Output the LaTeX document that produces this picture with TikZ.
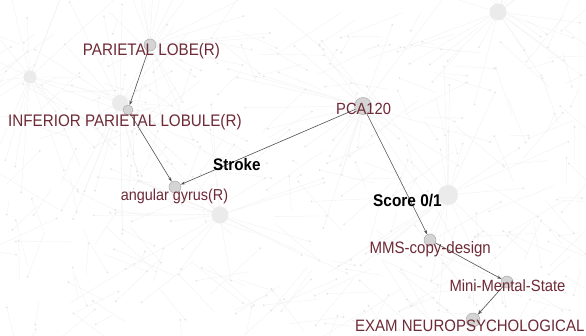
\documentclass[tikz,border=0pt]{standalone}
\usepackage{fontspec}
\setmainfont{Liberation Sans}
\usetikzlibrary{arrows.meta}
\definecolor{lblred}{RGB}{110,42,54}
\definecolor{edgecol}{RGB}{80,80,80}
\newcommand{\vst}[1]{\scalebox{1}[1.1]{#1}}
\begin{document}
\begin{tikzpicture}[x=1pt,y=-1pt,
  bgline/.style={draw=black!6, line width=0.3pt},
  bgdot/.style={fill=black!10},
  hub/.style={circle, fill=black!8, draw=none, inner sep=0pt, minimum size=#1},
  hub/.default=14pt,
  vert/.style={circle, fill=black!17, draw=black!33, line width=0.5pt, inner sep=0pt, minimum size=#1},
  vert/.default=12pt,
  edge/.style={draw=edgecol, line width=0.6pt, -{Stealth[length=4.5pt,width=3pt]}},
  lbl/.style={text=lblred, inner sep=0pt, anchor=base west, font=\fontsize{15.2}{16}\selectfont},
  boldlbl/.style={text=black, inner sep=0pt, anchor=base west, font=\bfseries\fontsize{15.2}{16}\selectfont}]

\useasboundingbox (0,0) rectangle (586,336);
\clip (0,0) rectangle (586,336);
\fill[white] (0,0) rectangle (586,336);

% faint background network
\pgfmathsetseed{17}
\foreach \i in {1,...,300}{
  \pgfmathsetmacro{\ax}{rnd*600-7}
  \pgfmathsetmacro{\ay}{rnd*300+30}
  \pgfmathsetmacro{\bx}{\ax+(rnd-0.5)*130}
  \pgfmathsetmacro{\by}{\ay+(rnd-0.5)*100}
  \draw[bgline] (\ax,\ay) -- (\bx,\by);
  \fill[bgdot] (\ax,\ay) circle (1pt);
}
\foreach \hx/\hy in {30/77, 120/103, 498/12, 220/215, 448/195, 150/45, 363/106}{
  \foreach \j in {1,...,20}{
    \pgfmathsetmacro{\ang}{rnd*360}
    \pgfmathsetmacro{\rad}{40+rnd*100}
    \draw[bgline] (\hx,\hy) -- ++(\ang:\rad pt);
    \fill[bgdot] (\hx,\hy) ++(\ang:\rad pt) circle (1pt);
  }
}

% faint hub circles
\node[hub=13pt] (h1) at (30,77) {};
\node[hub=16pt] (h2) at (120,103) {};
\node[hub=17pt] (h3) at (498,12) {};
\node[hub=17pt] (h4) at (220,215) {};
\node[hub=20pt] (h5) at (448,195) {};

% vertices
\node[vert=12pt] (pl)  at (150,45) {};
\node[vert=10pt] (ipl) at (128,110) {};
\node[vert=12pt] (ag)  at (175,187) {};
\node[vert=17pt] (pca) at (363,106) {};
\node[vert=12pt] (mms) at (430,240) {};
\node[vert=12pt] (mini) at (507,282) {};
\node[vert=14pt] (exam) at (473,320) {};

% edges
\draw[edge] (pl) -- (ipl);
\draw[edge] (ipl) -- (ag);
\draw[edge] (pca) -- (ag);
\draw[edge] (pca) -- (mms);
\draw[edge] (mms) -- (mini);
\draw[edge] (mini) -- (exam);

% labels
\node[lbl] (tpl) at (82.7,56) {\vst{PARIETAL LOBE(R)}};
\node[lbl] (tipl) at (8,126.5) {\vst{INFERIOR PARIETAL LOBULE(R)}};
\node[lbl, font=\fontsize{14.4}{16}\selectfont] (tag) at (120.7,201) {\vst{angular gyrus(R)}};
\node[lbl, font=\fontsize{14.7}{16}\selectfont] (tpca) at (336,115) {\vst{PCA120}};
\node[lbl, font=\fontsize{15.06}{16}\selectfont] (tmms) at (369.3,253.5) {\vst{MMS-copy-design}};
\node[lbl, font=\fontsize{14.8}{16}\selectfont] (tmini) at (449.3,291.5) {\vst{Mini-Mental-State}};
\node[lbl, font=\fontsize{15}{16}\selectfont] (texam) at (355,331.5) {\vst{EXAM NEUROPSYCHOLOGICAL}};
\node[boldlbl] (tstroke) at (213,170.5) {\vst{Stroke}};
\node[boldlbl, font=\bfseries\fontsize{15.4}{16}\selectfont] (tscore) at (373,206.5) {\vst{Score 0/1}};
\end{tikzpicture}
\end{document}
